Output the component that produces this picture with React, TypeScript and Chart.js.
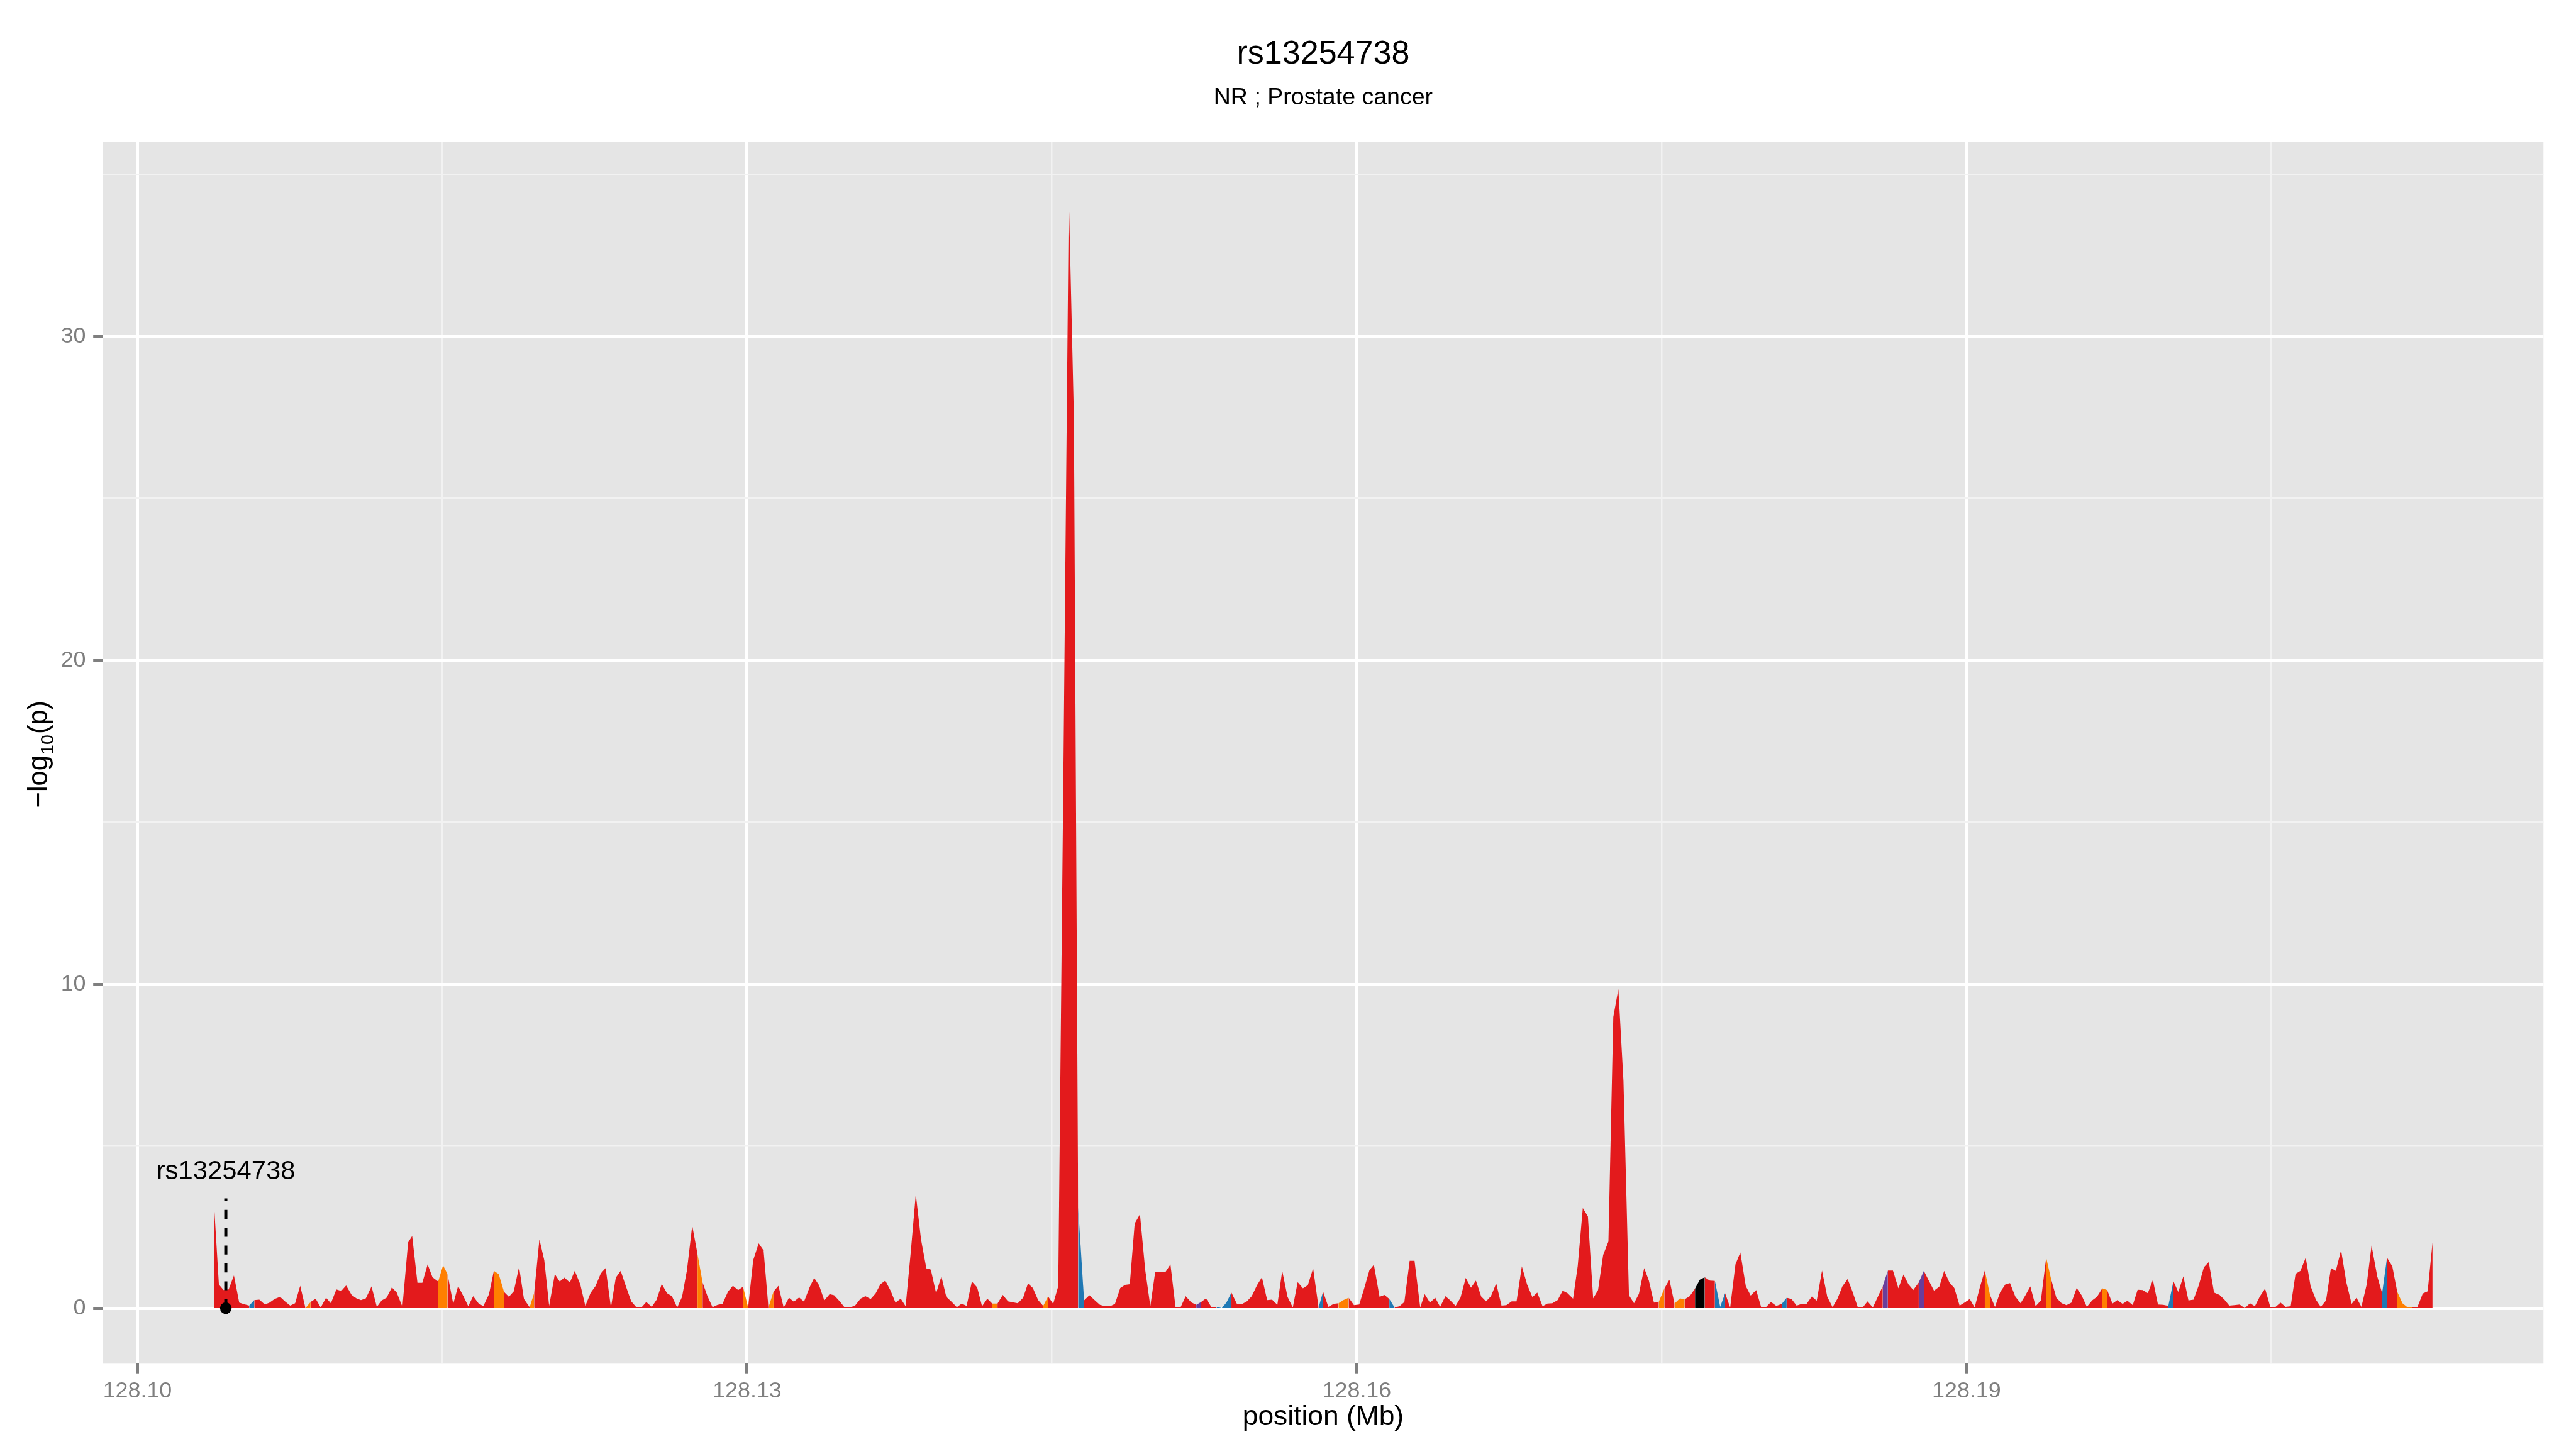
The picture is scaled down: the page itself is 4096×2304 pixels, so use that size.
import React, { useEffect, useRef } from 'react';
import { Chart, registerables } from 'chart.js';

Chart.register(...registerables);

const S = 4096 / 4800;
const FONT = '"Liberation Sans", Arial, Helvetica, sans-serif';

// ---------------- data ----------------
const positionsMb = [
  128.10376, 128.10401, 128.10424, 128.10449, 128.10475, 128.10501, 128.10525, 128.10550, 128.10575, 128.10600,
  128.10627, 128.10650, 128.10675, 128.10702, 128.10726, 128.10752, 128.10776, 128.10801, 128.10827, 128.10852,
  128.10877, 128.10902, 128.10928, 128.10952, 128.10979, 128.11003, 128.11027, 128.11054, 128.11078, 128.11100,
  128.11124, 128.11152, 128.11178, 128.11202, 128.11226, 128.11252, 128.11276, 128.11304, 128.11332, 128.11352,
  128.11378, 128.11402, 128.11428, 128.11452, 128.11480, 128.11504, 128.11526, 128.11554, 128.11578, 128.11604,
  128.11628, 128.11652, 128.11678, 128.11702, 128.11730, 128.11754, 128.11778, 128.11804, 128.11828, 128.11852,
  128.11878, 128.11902, 128.11930, 128.11952, 128.11978, 128.12002, 128.12026, 128.12054, 128.12078, 128.12101,
  128.12128, 128.12152, 128.12179, 128.12204, 128.12230, 128.12254, 128.12280, 128.12304, 128.12330, 128.12354,
  128.12378, 128.12405, 128.12430, 128.12456, 128.12480, 128.12504, 128.12531, 128.12555, 128.12580, 128.12606,
  128.12630, 128.12656, 128.12680, 128.12704, 128.12730, 128.12756, 128.12781, 128.12805, 128.12830, 128.12855,
  128.12879, 128.12906, 128.12930, 128.12956, 128.12980, 128.13005, 128.13030, 128.13057, 128.13081, 128.13105,
  128.13130, 128.13154, 128.13180, 128.13206, 128.13230, 128.13256, 128.13280, 128.13308, 128.13330, 128.13354,
  128.13380, 128.13406, 128.13428, 128.13456, 128.13480, 128.13506, 128.13530, 128.13558, 128.13582, 128.13608,
  128.13632, 128.13656, 128.13680, 128.13706, 128.13730, 128.13756, 128.13780, 128.13806, 128.13830, 128.13856,
  128.13882, 128.13904, 128.13930, 128.13956, 128.13980, 128.14004, 128.14032, 128.14056, 128.14080, 128.14106,
  128.14132, 128.14156, 128.14182, 128.14206, 128.14232, 128.14258, 128.14284, 128.14308, 128.14332, 128.14358,
  128.14382, 128.14406, 128.14432, 128.14457, 128.14481, 128.14506, 128.14531, 128.14557, 128.14583, 128.14608,
  128.14629, 128.14658, 128.14684, 128.14710, 128.14736, 128.14762, 128.14786, 128.14810, 128.14836, 128.14860,
  128.14883, 128.14907, 128.14933, 128.14959, 128.14984, 128.15008, 128.15032, 128.15059, 128.15083, 128.15108,
  128.15133, 128.15158, 128.15185, 128.15210, 128.15234, 128.15258, 128.15284, 128.15310, 128.15336, 128.15359,
  128.15383, 128.15410, 128.15434, 128.15459, 128.15483, 128.15509, 128.15533, 128.15559, 128.15583, 128.15609,
  128.15633, 128.15659, 128.15685, 128.15709, 128.15735, 128.15759, 128.15785, 128.15812, 128.15834, 128.15860,
  128.15886, 128.15910, 128.15934, 128.15960, 128.15986, 128.16012, 128.16036, 128.16062, 128.16084, 128.16112,
  128.16136, 128.16160, 128.16186, 128.16210, 128.16234, 128.16260, 128.16284, 128.16312, 128.16334, 128.16360,
  128.16386, 128.16410, 128.16436, 128.16460, 128.16486, 128.16510, 128.16536, 128.16562, 128.16586, 128.16612,
  128.16636, 128.16660, 128.16686, 128.16712, 128.16736, 128.16762, 128.16786, 128.16812, 128.16838, 128.16864,
  128.16888, 128.16914, 128.16938, 128.16962, 128.16988, 128.17013, 128.17037, 128.17064, 128.17087, 128.17112,
  128.17137, 128.17163, 128.17187, 128.17212, 128.17238, 128.17262, 128.17287, 128.17312, 128.17339, 128.17364,
  128.17388, 128.17414, 128.17437, 128.17462, 128.17486, 128.17513, 128.17538, 128.17563, 128.17590, 128.17613,
  128.17638, 128.17664, 128.17688, 128.17712, 128.17737, 128.17762, 128.17788, 128.17812, 128.17837, 128.17863,
  128.17887, 128.17914, 128.17938, 128.17965, 128.17990, 128.18013, 128.18038, 128.18064, 128.18091, 128.18115,
  128.18139, 128.18164, 128.18189, 128.18213, 128.18239, 128.18263, 128.18289, 128.18315, 128.18341, 128.18365,
  128.18389, 128.18415, 128.18439, 128.18465, 128.18489, 128.18513, 128.18539, 128.18565, 128.18588, 128.18613,
  128.18638, 128.18665, 128.18690, 128.18714, 128.18738, 128.18765, 128.18790, 128.18816, 128.18840, 128.18866,
  128.18890, 128.18916, 128.18940, 128.18966, 128.18990, 128.19016, 128.19040, 128.19066, 128.19090, 128.19116,
  128.19140, 128.19166, 128.19192, 128.19214, 128.19240, 128.19266, 128.19290, 128.19314, 128.19340, 128.19366,
  128.19392, 128.19416, 128.19442, 128.19468, 128.19492, 128.19516, 128.19542, 128.19566, 128.19592, 128.19618,
  128.19642, 128.19668, 128.19692, 128.19718, 128.19742, 128.19768, 128.19792, 128.19818, 128.19842, 128.19867,
  128.19892, 128.19917, 128.19942, 128.19968, 128.19993, 128.20018, 128.20042, 128.20067, 128.20092, 128.20117,
  128.20143, 128.20168, 128.20192, 128.20218, 128.20245, 128.20269, 128.20293, 128.20318, 128.20344, 128.20369,
  128.20395, 128.20419, 128.20444, 128.20469, 128.20495, 128.20519, 128.20545, 128.20570, 128.20595, 128.20619,
  128.20643, 128.20669, 128.20693, 128.20719, 128.20743, 128.20769, 128.20793, 128.20817, 128.20843, 128.20869,
  128.20895, 128.20919, 128.20943, 128.20969, 128.20993, 128.21021, 128.21045, 128.21069, 128.21095, 128.21119,
  128.21145, 128.21169, 128.21193, 128.21219, 128.21245, 128.21269, 128.21293,
];

const negLog10P = [
  3.31, 0.73, 0.56, 0.58, 1.01, 0.17, 0.12, 0.08, 0.25, 0.26,
  0.11, 0.17, 0.28, 0.35, 0.21, 0.08, 0.15, 0.69, 0.00, 0.19,
  0.29, 0.02, 0.32, 0.15, 0.58, 0.53, 0.70, 0.41, 0.30, 0.25,
  0.30, 0.67, 0.04, 0.24, 0.32, 0.64, 0.48, 0.04, 2.03, 2.23,
  0.78, 0.78, 1.35, 0.95, 0.82, 1.32, 1.05, 0.13, 0.68, 0.37,
  0.06, 0.37, 0.15, 0.06, 0.43, 1.15, 1.05, 0.50, 0.35, 0.52,
  1.27, 0.28, 0.03, 0.46, 2.12, 1.48, 0.07, 1.05, 0.82, 0.94,
  0.79, 1.15, 0.74, 0.07, 0.47, 0.68, 1.07, 1.24, 0.02, 0.94,
  1.15, 0.65, 0.21, 0.02, 0.02, 0.19, 0.04, 0.26, 0.75, 0.46,
  0.37, 0.02, 0.35, 1.17, 2.55, 1.67, 0.79, 0.37, 0.03, 0.10,
  0.13, 0.51, 0.69, 0.56, 0.66, 0.02, 1.48, 2.00, 1.78, 0.02,
  0.51, 0.69, 0.02, 0.32, 0.20, 0.33, 0.20, 0.65, 0.93, 0.71,
  0.24, 0.43, 0.40, 0.21, 0.02, 0.03, 0.07, 0.29, 0.37, 0.28,
  0.45, 0.74, 0.85, 0.54, 0.17, 0.29, 0.06, 1.78, 3.52, 2.11,
  1.23, 1.19, 0.46, 0.98, 0.35, 0.21, 0.03, 0.14, 0.07, 0.82,
  0.64, 0.06, 0.29, 0.14, 0.14, 0.41, 0.21, 0.18, 0.15, 0.32,
  0.76, 0.62, 0.25, 0.07, 0.36, 0.13, 0.68, 17.0, 34.3, 27.5,
  3.10, 0.24, 0.40, 0.25, 0.10, 0.06, 0.06, 0.13, 0.62, 0.72,
  0.74, 2.61, 2.90, 1.17, 0.06, 1.12, 1.11, 1.12, 1.35, 0.03,
  0.03, 0.37, 0.18, 0.10, 0.19, 0.30, 0.04, 0.04, 0.00, 0.18,
  0.48, 0.13, 0.12, 0.21, 0.37, 0.71, 0.95, 0.25, 0.26, 0.10,
  1.15, 0.35, 0.02, 0.80, 0.61, 0.71, 1.23, 0.02, 0.51, 0.04,
  0.13, 0.15, 0.25, 0.32, 0.09, 0.11, 0.60, 1.17, 1.34, 0.35,
  0.41, 0.28, 0.02, 0.06, 0.19, 1.46, 1.46, 0.02, 0.43, 0.17,
  0.32, 0.04, 0.37, 0.24, 0.07, 0.32, 0.93, 0.63, 0.85, 0.36,
  0.21, 0.37, 0.76, 0.08, 0.09, 0.21, 0.21, 1.29, 0.73, 0.34,
  0.48, 0.06, 0.14, 0.15, 0.25, 0.54, 0.46, 0.29, 1.30, 3.09,
  2.83, 0.30, 0.56, 1.64, 2.06, 8.99, 9.85, 7.01, 0.40, 0.15,
  0.44, 1.24, 0.85, 0.17, 0.20, 0.60, 0.88, 0.14, 0.30, 0.27,
  0.37, 0.60, 0.88, 0.95, 0.85, 0.84, 0.04, 0.46, 0.02, 1.35,
  1.72, 0.68, 0.39, 0.56, 0.02, 0.03, 0.19, 0.07, 0.13, 0.32,
  0.28, 0.08, 0.13, 0.13, 0.36, 0.23, 1.16, 0.35, 0.03, 0.29,
  0.67, 0.90, 0.51, 0.03, 0.02, 0.21, 0.02, 0.37, 0.68, 1.16,
  1.16, 0.61, 1.04, 0.74, 0.56, 0.79, 1.15, 0.83, 0.54, 0.66,
  1.15, 0.79, 0.62, 0.08, 0.17, 0.28, 0.02, 0.65, 1.16, 0.40,
  0.04, 0.50, 0.74, 0.77, 0.36, 0.15, 0.40, 0.67, 0.06, 0.24,
  1.56, 0.90, 0.32, 0.15, 0.09, 0.17, 0.62, 0.40, 0.04, 0.24,
  0.35, 0.61, 0.56, 0.14, 0.25, 0.13, 0.23, 0.09, 0.57, 0.56,
  0.46, 0.87, 0.11, 0.10, 0.07, 0.83, 0.50, 0.98, 0.24, 0.26,
  0.71, 1.26, 1.42, 0.48, 0.41, 0.26, 0.08, 0.09, 0.11, 0.00,
  0.15, 0.06, 0.37, 0.60, 0.03, 0.03, 0.17, 0.04, 0.06, 1.06,
  1.15, 1.56, 0.68, 0.26, 0.04, 0.24, 1.24, 1.15, 1.79, 0.79,
  0.13, 0.32, 0.04, 0.73, 1.93, 0.98, 0.46, 1.56, 1.29, 0.51,
  0.15, 0.03, 0.04, 0.04, 0.45, 0.52, 2.03,
];

// LD class of the stretch that starts at each SNP: 0 red, 1 orange, 2 blue, 3 purple, 4 black
const ldClass = [
  0, 0, 0, 0, 0, 0, 0, 2, 0, 0, 0, 0, 0, 0, 0, 0, 0, 0, 1, 0,
  0, 0, 0, 0, 0, 0, 0, 0, 0, 0, 0, 0, 0, 0, 0, 0, 0, 0, 0, 0,
  0, 0, 0, 0, 1, 1, 0, 0, 0, 0, 0, 0, 0, 0, 0, 1, 1, 0, 0, 0,
  0, 0, 1, 0, 0, 0, 0, 0, 0, 0, 0, 0, 0, 0, 0, 0, 0, 0, 0, 0,
  0, 0, 0, 0, 0, 0, 0, 0, 0, 0, 0, 0, 0, 0, 0, 1, 0, 0, 0, 0,
  0, 0, 0, 0, 1, 0, 0, 0, 0, 1, 0, 0, 0, 0, 0, 0, 0, 0, 0, 0,
  0, 0, 0, 0, 0, 0, 0, 0, 0, 0, 0, 0, 0, 0, 0, 0, 0, 0, 0, 0,
  0, 0, 0, 0, 0, 0, 0, 0, 0, 0, 0, 0, 0, 1, 0, 0, 0, 0, 0, 0,
  0, 0, 0, 1, 0, 0, 0, 0, 0, 0, 2, 0, 0, 0, 0, 0, 0, 0, 0, 0,
  0, 0, 0, 0, 0, 0, 0, 0, 0, 0, 0, 0, 0, 3, 0, 0, 0, 2, 2, 2,
  0, 0, 0, 0, 0, 0, 0, 0, 0, 0, 0, 0, 0, 0, 0, 0, 0, 2, 0, 0,
  0, 1, 1, 0, 0, 0, 0, 0, 0, 0, 0, 2, 0, 0, 0, 0, 0, 0, 0, 0,
  0, 0, 0, 0, 0, 0, 0, 0, 0, 0, 0, 0, 0, 0, 0, 0, 0, 0, 0, 0,
  0, 0, 0, 0, 0, 0, 0, 0, 0, 0, 0, 0, 0, 0, 0, 0, 0, 0, 0, 0,
  0, 0, 0, 0, 1, 0, 0, 1, 1, 0, 0, 4, 4, 0, 0, 2, 2, 0, 0, 0,
  0, 0, 0, 0, 0, 0, 0, 0, 2, 0, 0, 0, 0, 0, 0, 0, 0, 0, 0, 0,
  0, 0, 0, 0, 0, 0, 0, 0, 3, 0, 0, 0, 0, 0, 0, 3, 0, 0, 0, 0,
  0, 0, 0, 0, 0, 0, 0, 0, 1, 0, 0, 0, 0, 0, 0, 0, 0, 0, 0, 0,
  1, 0, 0, 0, 0, 0, 0, 0, 0, 0, 0, 1, 0, 0, 0, 0, 0, 0, 0, 0,
  0, 0, 0, 0, 2, 0, 0, 0, 0, 0, 0, 0, 0, 0, 0, 0, 0, 0, 0, 0,
  0, 0, 0, 0, 0, 0, 0, 0, 0, 0, 0, 0, 0, 0, 0, 0, 0, 0, 0, 0,
  0, 0, 0, 0, 0, 0, 2, 0, 0, 1, 1, 1, 0, 0, 0, 0, 0,
];

const ldColors = ['#E31A1C', '#FF7F00', '#1F78B4', '#6A3D9A', '#000000'];

const xMajorTicks = [128.10, 128.13, 128.16, 128.19];
const xMinorTicks = [128.115, 128.145, 128.175, 128.205];
const yMajorTicks = [0, 10, 20, 30];
const yMinorTicks = [5, 15, 25, 35];

const leadSnpId = 'rs13254738';
const leadSnpPosMb = 128.10435;
const leadSnpLineY = [0, 3.39];
const leadSnpLabelY = 3.99;

const titleText = 'rs13254738';
const subtitleText = 'NR ; Prostate cancer';
const xAxisTitle = 'position (Mb)';
const yAxisTitleParts = ['\u2212log', '10', '(p)'];

// ---------------- layout (reference px * S) ----------------
const W = 4096;
const H = 2304;
const PANEL_LEFT = 191.7 * S;
const PANEL_RIGHT = 4739.4 * S;
const PANEL_TOP = 264 * S;
const PANEL_BOTTOM = 2541 * S;

const isIn = (arr: number[], v: number) => arr.some((a) => Math.abs(a - v) < 1e-9);

const backgroundPlugin = {
  id: 'ggBackground',
  beforeDraw(chart: any) {
    const { ctx, chartArea: a } = chart;
    ctx.save();
    ctx.fillStyle = '#FFFFFF';
    ctx.fillRect(0, 0, chart.width, chart.height);
    ctx.fillStyle = '#E5E5E5';
    ctx.fillRect(a.left, a.top, a.right - a.left, a.bottom - a.top);
    ctx.restore();
  },
};

const textPlugin = {
  id: 'ggText',
  afterDraw(chart: any) {
    const { ctx, chartArea: a, scales } = chart;
    const cx = (a.left + a.right) / 2;
    ctx.save();
    ctx.fillStyle = '#000000';
    ctx.textAlign = 'center';
    ctx.textBaseline = 'alphabetic';
    ctx.font = `${61 * S}px ${FONT}`;
    ctx.fillText(titleText, cx, 118.3 * S);
    ctx.font = `${44 * S}px ${FONT}`;
    ctx.fillText(subtitleText, cx, 194.3 * S);
    ctx.font = `${52 * S}px ${FONT}`;
    ctx.fillText(xAxisTitle, cx, 2655 * S);

    // lead SNP label
    ctx.font = `${49 * S}px ${FONT}`;
    ctx.fillText(leadSnpId, scales.x.getPixelForValue(leadSnpPosMb), scales.y.getPixelForValue(leadSnpLabelY));

    // y axis title with subscript
    const cy = (a.top + a.bottom) / 2 + 4 * S;
    ctx.translate(88.3 * S, cy);
    ctx.rotate(-Math.PI / 2);
    const mainFont = `${51 * S}px ${FONT}`;
    const subFont = `${51 * S * 0.66}px ${FONT}`;
    ctx.font = mainFont;
    const w1 = ctx.measureText(yAxisTitleParts[0]).width;
    const w3 = ctx.measureText(yAxisTitleParts[2]).width;
    ctx.font = subFont;
    const w2 = ctx.measureText(yAxisTitleParts[1]).width;
    const x0 = -(w1 + w2 + w3) / 2;
    ctx.textAlign = 'left';
    ctx.font = mainFont;
    ctx.fillText(yAxisTitleParts[0], x0, 0);
    ctx.font = subFont;
    ctx.fillText(yAxisTitleParts[1], x0 + w1 + 1, 11 * S);
    ctx.font = mainFont;
    ctx.fillText(yAxisTitleParts[2], x0 + w1 + w2 + 2, 0);
    ctx.restore();
  },
};

function gridOpts(majors: number[]) {
  return {
    color: (c: any) => (c.tick && isIn(majors, c.tick.value) ? '#FFFFFF' : '#F2F2F2'),
    lineWidth: (c: any) => (c.tick && isIn(majors, c.tick.value) ? 5.0 : 2.5),
    tickColor: (c: any) => (c.tick && isIn(majors, c.tick.value) ? '#7F7F7F' : 'rgba(0,0,0,0)'),
    tickWidth: 5.0,
    tickLength: 15.4,
    drawTicks: true,
    drawOnChartArea: true,
  };
}

export default function App() {
  const canvasRef = useRef<HTMLCanvasElement | null>(null);

  useEffect(() => {
    const canvas = canvasRef.current;
    if (!canvas) return;

    const xLo = Math.min(...positionsMb);
    const xHi = Math.max(...positionsMb);
    const xPad = (xHi - xLo) * 0.05;
    const yLo = Math.min(0, ...negLog10P);
    const yHi = Math.max(...negLog10P);
    const yPad = (yHi - yLo) * 0.05;

    const areaData = positionsMb.map((x, i) => ({ x, y: negLog10P[i] }));

    const chart = new Chart(canvas, {
      type: 'line',
      data: {
        datasets: [
          {
            data: areaData,
            fill: 'origin',
            pointRadius: 0,
            pointHoverRadius: 0,
            borderWidth: 0,
            tension: 0,
            backgroundColor: ldColors[0],
            borderColor: ldColors[0],
            segment: {
              backgroundColor: (c: any) => ldColors[ldClass[c.p0DataIndex]],
              borderColor: (c: any) => ldColors[ldClass[c.p0DataIndex]],
            },
            order: 3,
          } as any,
          {
            data: leadSnpLineY.map((y) => ({ x: leadSnpPosMb, y })),
            fill: false,
            pointRadius: 0,
            borderColor: '#000000',
            borderWidth: 5,
            borderDash: [14.2, 14.2],
            borderCapStyle: 'butt',
            order: 2,
          } as any,
          {
            type: 'scatter',
            data: [{ x: leadSnpPosMb, y: 0 }],
            pointRadius: 9.2,
            pointHoverRadius: 9.2,
            backgroundColor: '#000000',
            borderWidth: 0,
            order: 1,
          } as any,
        ],
      },
      options: {
        animation: false,
        responsive: false,
        devicePixelRatio: 1,
        events: [],
        layout: {
          padding: { top: PANEL_TOP, right: W - PANEL_RIGHT, bottom: 0, left: 0 },
        },
        plugins: {
          legend: { display: false },
          tooltip: { enabled: false },
          title: { display: false },
        },
        scales: {
          x: {
            type: 'linear',
            bounds: 'data',
            min: xLo - xPad,
            max: xHi + xPad,
            afterBuildTicks: (s: any) => {
              s.ticks = [...xMajorTicks, ...xMinorTicks].sort((a, b) => a - b).map((v) => ({ value: v }));
            },
            afterFit: (s: any) => {
              s.height = H - PANEL_BOTTOM;
            },
            ticks: {
              autoSkip: false,
              maxRotation: 0,
              minRotation: 0,
              padding: 7,
              color: '#7F7F7F',
              font: { family: FONT, size: 42 * S },
              callback: (v: any) => (isIn(xMajorTicks, Number(v)) ? Number(v).toFixed(2) : ''),
            },
            grid: gridOpts(xMajorTicks) as any,
            border: { display: false },
          },
          y: {
            type: 'linear',
            bounds: 'data',
            min: yLo - yPad,
            max: yHi + yPad,
            afterBuildTicks: (s: any) => {
              s.ticks = [...yMajorTicks, ...yMinorTicks].sort((a, b) => a - b).map((v) => ({ value: v }));
            },
            afterFit: (s: any) => {
              s.width = PANEL_LEFT;
            },
            ticks: {
              autoSkip: false,
              padding: 11.7,
              color: '#7F7F7F',
              font: { family: FONT, size: 42 * S },
              callback: (v: any) => (isIn(yMajorTicks, Number(v)) ? String(v) : ''),
            },
            grid: gridOpts(yMajorTicks) as any,
            border: { display: false },
          },
        },
      } as any,
      plugins: [backgroundPlugin, textPlugin],
    });

    return () => {
      chart.destroy();
    };
  }, []);

  return (
    <div style={{ position: 'fixed', left: 0, top: 0, width: W, height: H, background: '#FFFFFF' }}>
      <canvas ref={canvasRef} width={W} height={H} style={{ display: 'block', width: W, height: H }} />
    </div>
  );
}
